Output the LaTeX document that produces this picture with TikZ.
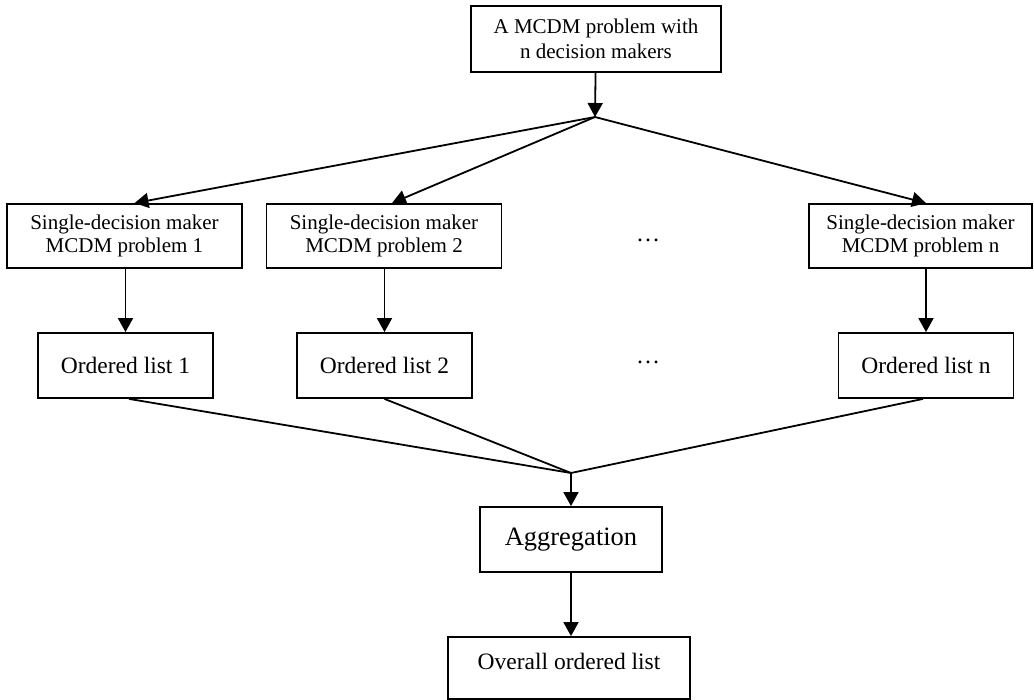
\documentclass[tikz,border=0pt]{standalone}
\usepackage{fontspec}
\setmainfont{Liberation Serif}
\usetikzlibrary{arrows.meta}
\tikzset{%
  >={Triangle[width=15pt,length=14pt]},
  % Specifications for style of nodes:
            base/.style = {rectangle, draw=black, line width=1.8pt,
                           text centered, inner sep=0pt},
         problem/.style = {base, minimum width=250pt, minimum height=66pt,
                           align=center, font=\fontsize{21}{25}\selectfont},
          single/.style = {base, minimum width=235pt, minimum height=64pt,
                           align=center, font=\fontsize{21}{23}\selectfont},
         ordered/.style = {base, minimum width=175pt, minimum height=65pt,
                           font=\fontsize{23.5}{28}\selectfont},
       aggregate/.style = {base, minimum width=182pt, minimum height=65pt,
                           font=\fontsize{26.5}{30}\selectfont},
         overall/.style = {base, minimum width=242pt, minimum height=62pt,
                           text depth=14pt, font=\fontsize{23.5}{28}\selectfont},
        skipdots/.style = {anchor=base, inner sep=0pt,
                           font=\fontsize{24}{28}\selectfont},
}

\begin{document}
\begin{tikzpicture}[x=1pt, y=-1pt, line width=1.8pt]
  \useasboundingbox (0,0) rectangle (1034,700);
  % Specification of nodes (position, etc.)
  \node (problem)     [problem]   at (596,39)      {A MCDM problem with\\n decision makers};
  \coordinate (split) at (595,117);
  \node (single1)     [single]    at (124.5,236)   {Single-decision maker\\MCDM problem 1};
  \node (single2)     [single]    at (384,236)     {Single-decision maker\\MCDM problem 2};
  \node (singlen)     [single, minimum width=223pt] at (920.5,236) {Single-decision maker\\MCDM problem n};
  \node (dots1)       [skipdots]  at (648,242)     {\ldots};
  \node (list1)       [ordered]   at (125.5,365.5) {Ordered list 1};
  \node (list2)       [ordered]   at (384.5,365.5) {Ordered list 2};
  \node (listn)       [ordered]   at (926,365.5)   {Ordered list n};
  \node (dots2)       [skipdots]  at (648,364)     {\ldots};
  \coordinate (merge) at (571,473);
  \node (aggregation) [aggregate] at (571,539.5)   {Aggregation};
  \node (overall)     [overall]   at (569,668)     {Overall ordered list};
  % Specification of lines between nodes specified above
  \draw[->]       (problem) -- (split);
  \draw[->]       (split) -- ([xshift=10pt]single1.north);
  \draw[->]       (split) -- ([xshift=8pt]single2.north);
  \draw[->]       (split) -- ([xshift=5.5pt]singlen.north);
  \draw[->]       (single1.south -| list1.north) -- (list1.north);
  \draw[->]       (single2.south -| list2.north) -- (list2.north);
  \draw[->]       (singlen.south -| listn.north) -- (listn.north);
  \draw           ([xshift=3.5pt]list1.south) -- (merge);
  \draw           (list2.south) -- (merge);
  \draw           ([xshift=-3pt]listn.south) -- (merge);
  \draw[->]       (merge) -- (aggregation);
  \draw[->]       (aggregation.south) -- (aggregation.south |- overall.north);
\end{tikzpicture}
\end{document}
